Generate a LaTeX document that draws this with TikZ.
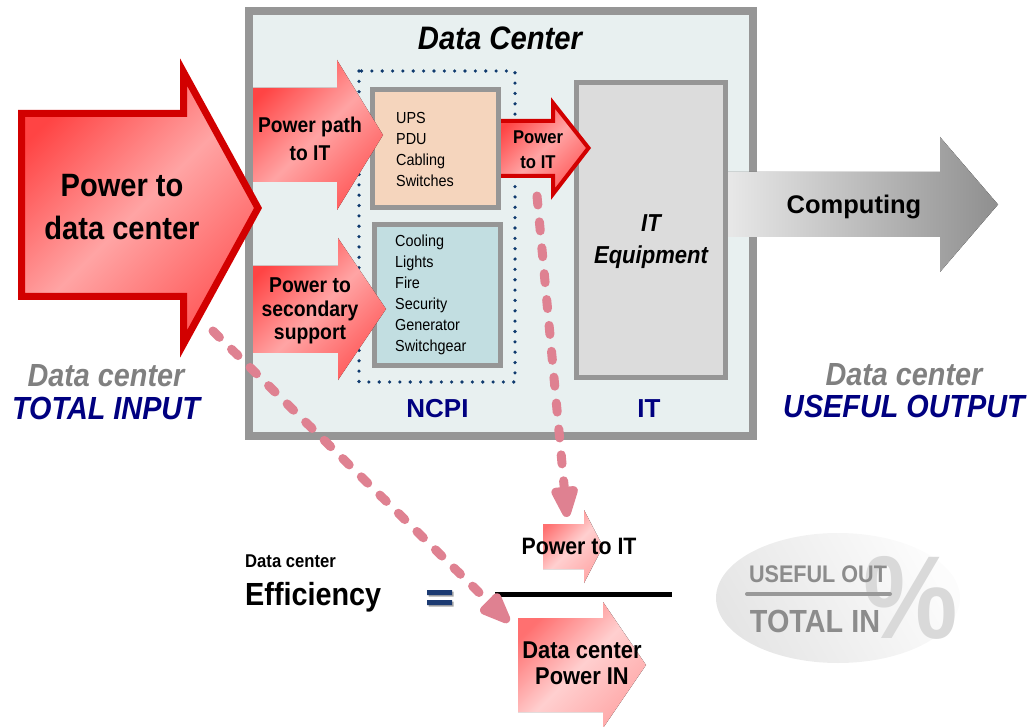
\documentclass[tikz,border=0pt]{standalone}
\usepackage{fontspec}
\setmainfont{Liberation Sans}
\newfontfamily\nf[FakeStretch=0.9]{Liberation Sans}
\newfontfamily\wf{Liberation Sans}
\usetikzlibrary{arrows.meta}
\definecolor{boxgray}{HTML}{969696}
\definecolor{dcfill}{HTML}{E8F0F0}
\definecolor{peach}{HTML}{F5D5BD}
\definecolor{ltblue}{HTML}{C2DEE1}
\definecolor{itgray}{HTML}{DCDCDC}
\definecolor{navytxt}{HTML}{000080}
\definecolor{dotnavy}{HTML}{0F3A6E}
\definecolor{graytxt}{HTML}{808080}
\definecolor{redline}{HTML}{D20000}
\definecolor{rtop}{HTML}{FF4444}
\definecolor{rmid}{HTML}{FFA4A4}
\definecolor{rbot}{HTML}{FF5A5A}
\definecolor{ltop}{HTML}{FF7070}
\definecolor{lmid}{HTML}{FFCFCF}
\definecolor{lbot}{HTML}{FFA8A8}
\definecolor{dashpink}{HTML}{DF8191}
\definecolor{eqnavy}{HTML}{1C3B72}
\newcommand\fsz[2]{\fontsize{#1}{#2}\selectfont}
\tikzset{
  redshade/.style={top color=rtop, bottom color=rbot, middle color=rmid, shading angle=45},
  lightshade/.style={top color=ltop, bottom color=lbot, middle color=lmid, shading angle=45},
  graybox/.style={draw=boxgray, line width=5pt},
  dashconn/.style={draw=dashpink, line width=9pt, line cap=round, dash pattern=on 9pt off 17pt,
     -{Triangle[length=39pt,width=28pt,round=false]}},
  lbl/.style={inner sep=0pt, anchor=base},
}
\begin{document}
\begin{tikzpicture}[x=1pt,y=-1pt]
\useasboundingbox (0,0) rectangle (1031,727);
% outer data center box
\draw[draw=boxgray, fill=dcfill, line width=8pt] (249,11) rectangle (753,436);
\node[lbl, font=\nf\bfseries\itshape\fsz{32.5}{36}] (title) at (500,50) {Data Center};
% NCPI dotted region
\draw[dotnavy, line width=3.6pt, line cap=round, dash pattern=on 0pt off 10.35pt] (359,71) rectangle (515,382);
% component boxes
\draw[graybox, fill=peach] (372.5,89.5) rectangle (498.5,207.5);
\draw[graybox, fill=ltblue] (374.5,224.5) rectangle (500.5,365.5);
\node[inner sep=0pt, anchor=west, align=left, font=\nf\fsz{16}{21}] (ups) at (396,149.5) {UPS\\PDU\\Cabling\\Switches};
\node[inner sep=0pt, anchor=west, align=left, font=\nf\fsz{16}{21}] (cool) at (395,294.5) {Cooling\\Lights\\Fire\\Security\\Generator\\Switchgear};
% IT equipment box
\draw[graybox, fill=itgray] (576.5,82.5) rectangle (725.5,377.5);
\node[inner sep=0pt, align=center, font=\nf\bfseries\itshape\fsz{24.5}{32}] (itequip) at (651,242) {IT\\Equipment};
\node[lbl, font=\wf\bfseries\fsz{26}{30}, text=navytxt] (ncpi) at (437.5,417) {NCPI};
\node[lbl, font=\wf\bfseries\fsz{26}{30}, text=navytxt] (itlbl) at (649,417) {IT};
% small power to IT arrow
\fill[redshade] (501,121) -- (553,121) -- (553,103) -- (588.5,148) -- (553,194) -- (553,176) -- (501,176) -- cycle;
\draw[redline, line width=4pt, miter limit=10] (501,121) -- (553,121) -- (553,103) -- (588.5,148) -- (553,194) -- (553,176) -- (501,176);
\node[inner sep=0pt, align=center, font=\nf\bfseries\fsz{18.5}{25}] (pit) at (538,150) {Power\\to IT};
% power path arrow
\fill[redshade] (253,88) -- (337,88) -- (337,60) -- (383,135) -- (337,210) -- (337,182) -- (253,182) -- cycle;
\node[inner sep=0pt, align=center, font=\nf\bfseries\fsz{21.4}{28}] (ppath) at (310,139) {Power path\\to IT};
% secondary support arrow
\fill[redshade] (253,266) -- (338,266) -- (338,238) -- (386,309) -- (338,380) -- (338,353) -- (253,353) -- cycle;
\node[inner sep=0pt, align=center, font=\nf\bfseries\fsz{21.5}{23.5}] (psec) at (310,311) {Power to\\secondary\\support};
% computing arrow
\fill[left color=black!9, right color=black!44] (728,172) -- (940,172) -- (940,137) -- (998,204.5) -- (940,272) -- (940,237) -- (728,237) -- cycle;
\node[lbl, font=\wf\bfseries\fsz{25.5}{30}] (comp) at (854,214) {Computing};
% big input arrow
\draw[redline, line width=7pt, redshade, miter limit=10] (21.5,113.5) -- (183.5,113.5) -- (183.5,72) -- (258,208) -- (183.5,344) -- (183.5,296.5) -- (21.5,296.5) -- cycle;
\node[inner sep=0pt, align=center, font=\nf\bfseries\fsz{32.3}{43}] (pdc) at (122,207) {Power to\\data center};
% side labels
\node[inner sep=0pt, align=center, font=\nf\bfseries\itshape\fsz{32}{33}, text=graytxt] (tin) at (106,392) {Data center\\\textcolor{navytxt}{TOTAL INPUT}};
\node[inner sep=0pt, align=center, font=\nf\bfseries\itshape\fsz{32}{32}, text=graytxt] (uout) at (904,391) {Data center\\\textcolor{navytxt}{USEFUL OUTPUT}};
% efficiency formula
\node[lbl, anchor=base west, font=\nf\bfseries\fsz{18.5}{20}] (dcs) at (245,567) {Data center};
\node[lbl, anchor=base west, font=\nf\bfseries\fsz{32}{36}] (eff) at (245,605) {Efficiency};
\fill[black!35] (428.5,591.5) rectangle (453.5,596.5) (428.5,601.5) rectangle (453.5,606.5);
\fill[eqnavy] (427,590) rectangle (452,595) (427,600) rectangle (452,605);
\coordinate (eqsign) at (439.5,597.5);
\draw[black, line width=5pt] (495,594) -- (672,594);
\fill[lightshade] (543,524) -- (584,524) -- (584,510) -- (603,546.5) -- (584,583) -- (584,569) -- (543,569) -- cycle;
\node[lbl, font=\nf\bfseries\fsz{23.7}{26}] (pitb) at (579,554) {Power to IT};
\fill[lightshade] (518,618) -- (603,618) -- (603,602) -- (646,665) -- (603,728) -- (603,712) -- (518,712) -- cycle;
\node[inner sep=0pt, align=center, font=\nf\bfseries\fsz{24.3}{26}] (pin) at (582,663) {Data center\\Power IN};
% useful out / total in badge
\shade[left color=black!10, right color=black!1, shading angle=120] (838,598) ellipse [x radius=122, y radius=65];
\node[lbl, font=\nf\bfseries\fsz{118}{120}, text=black!15] (pct) at (911,638) {\%};
\node[lbl, font=\nf\bfseries\fsz{24}{26}, text=black!45] (uo) at (818,582) {USEFUL OUT};
\draw[black!40, line width=4pt, line cap=round] (747,594) -- (890,594);
\node[lbl, font=\nf\bfseries\fsz{32}{34}, text=black!45] (ti) at (815,632) {TOTAL IN};
% dashed connectors
\coordinate (d1s) at (213,331);
\coordinate (d1e) at (509,622);
\coordinate (d2s) at (537,196);
\coordinate (d2e) at (567,517);
\draw[dashconn] (d1s) -- (d1e);
\draw[dashconn] (d2s) -- (d2e);
\end{tikzpicture}
\end{document}
